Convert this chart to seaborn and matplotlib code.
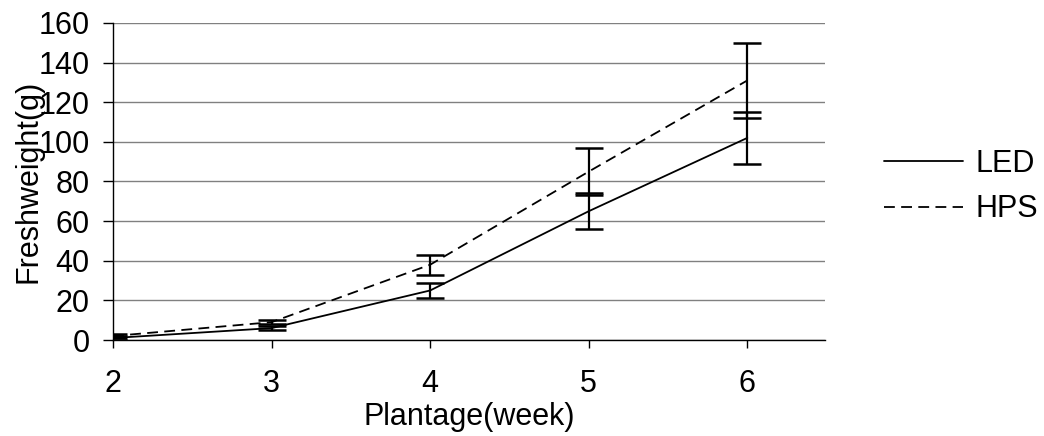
import pandas as pd
import numpy as np
import matplotlib.pyplot as plt
import seaborn as sns

# Data
weeks = [2, 3, 4, 5, 6]
led_mean = [1, 6, 25, 65, 102]
led_err = [0.8, 1, 4, 9, 13]
hps_mean = [2, 9, 38, 85, 131]
hps_err = [0.8, 1, 5, 12, 19]

df = pd.DataFrame({
    "week": weeks * 2,
    "weight": led_mean + hps_mean,
    "lamp": ["LED"] * 5 + ["HPS"] * 5,
})

sns.set_style("white")
plt.rcParams["font.family"] = ["Liberation Sans", "DejaVu Sans"]
plt.rcParams["text.color"] = "black"
plt.rcParams["axes.labelcolor"] = "black"
plt.rcParams["xtick.color"] = "black"
plt.rcParams["ytick.color"] = "black"

fig = plt.figure(figsize=(10.44, 4.36), dpi=100)
ax = fig.add_axes([113 / 1044, 1 - 340 / 436, (825 - 113) / 1044, (340 - 23) / 436])

sns.lineplot(data=df, x="week", y="weight", hue="lamp", style="lamp",
             palette={"LED": "black", "HPS": "black"},
             dashes={"LED": "", "HPS": (6, 3.5)}, linewidth=1.3, ax=ax)

# error bars
ax.errorbar(weeks, led_mean, yerr=led_err, fmt="none", ecolor="black",
            elinewidth=1.6, capsize=10, capthick=1.8)
ax.errorbar(weeks, hps_mean, yerr=hps_err, fmt="none", ecolor="black",
            elinewidth=1.6, capsize=10, capthick=1.8)

ax.set_xlim(2, 6.49)
ax.set_ylim(0, 160)
ax.set_yticks(range(0, 161, 20))
ax.set_xticks(weeks)
ax.yaxis.grid(True, color="#808080", linewidth=1)
ax.set_axisbelow(True)
for s in ["top", "right"]:
    ax.spines[s].set_visible(False)
for s in ["left", "bottom"]:
    ax.spines[s].set_color("black")
    ax.spines[s].set_linewidth(1)
ax.tick_params(axis="both", labelsize=22, direction="out", width=1,
               bottom=True, left=True)
ax.tick_params(axis="x", length=6, pad=15)
ax.tick_params(axis="y", length=7, pad=10)

ax.set_xlabel("Plantage(week)", fontsize=22)
ax.set_ylabel("Freshweight(g)", fontsize=22)
ax.xaxis.set_label_coords(0.5, -0.197)
ax.yaxis.set_label_coords(-0.098, 0.5)

handles, labels = ax.get_legend_handles_labels()
ax.legend(handles, labels, loc="center left", bbox_to_anchor=(1.044, 0.484),
          frameon=False, fontsize=22, handlelength=2.6, handletextpad=0.4,
          labelspacing=0.5)

fig.savefig("out.png", dpi=100)
